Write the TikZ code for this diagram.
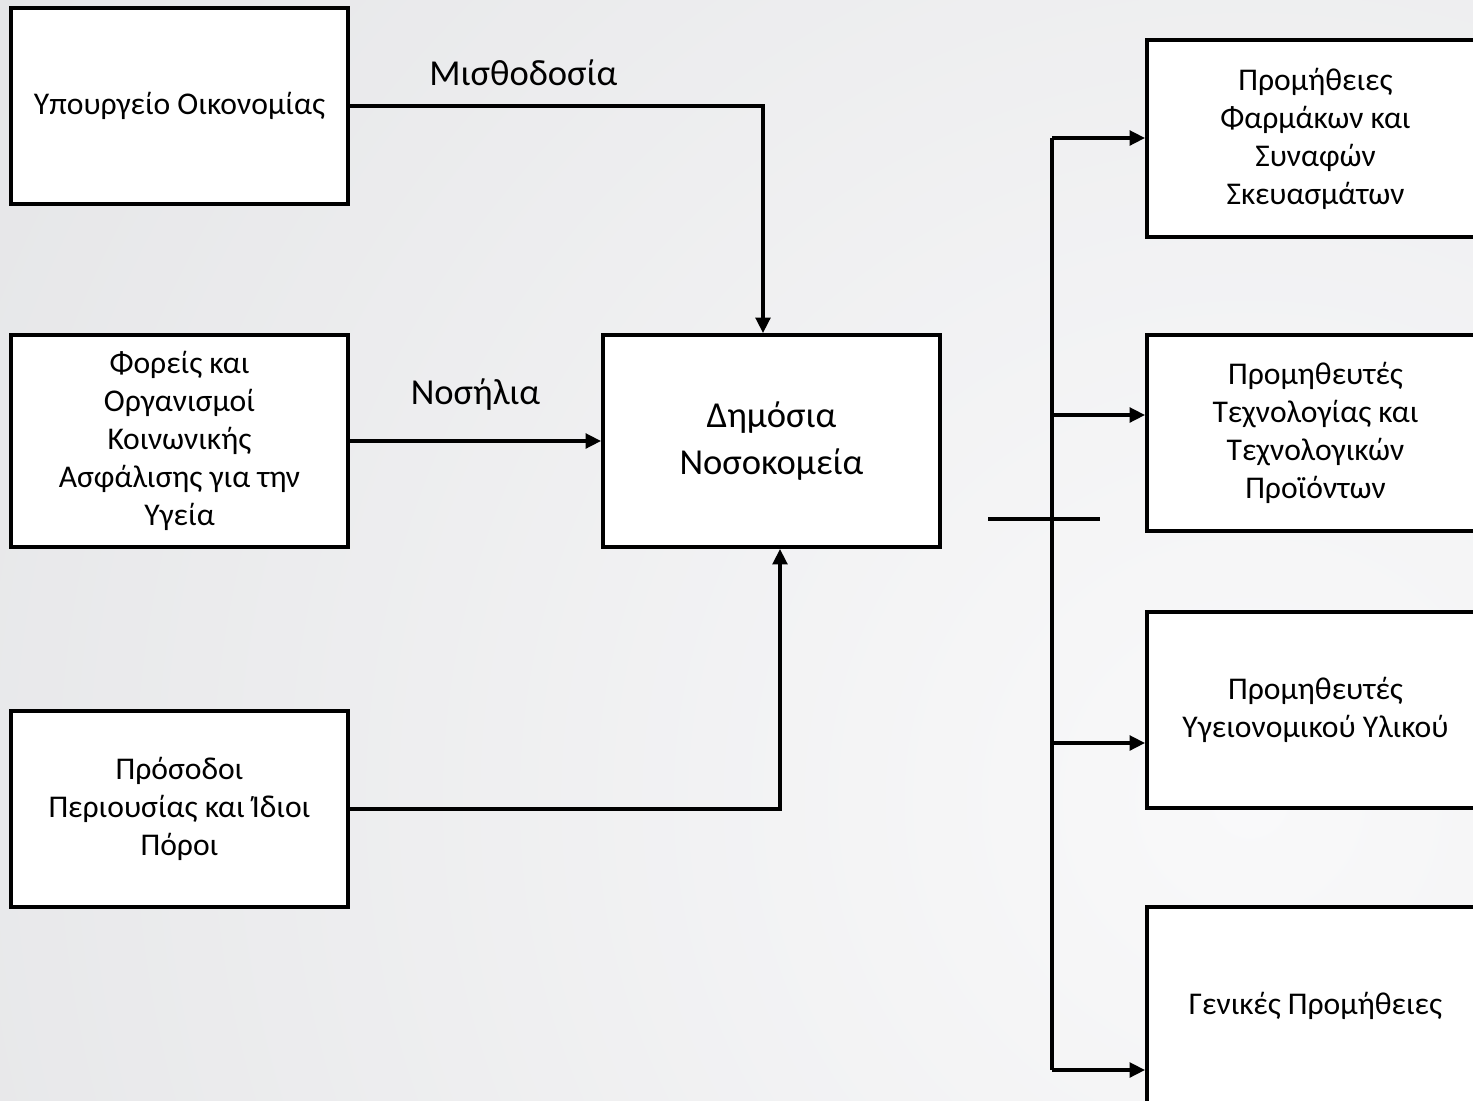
\documentclass[tikz,border=0pt]{standalone}
\usepackage{fontspec}
\setmainfont{Carlito}
\usepackage{tikz}
\usetikzlibrary{arrows.meta, positioning, calc}

\definecolor{bginner}{HTML}{F9F9FA}
\definecolor{bgouter}{HTML}{D1D2D5}

\begin{document}
\begin{tikzpicture}
\tikzstyle{box}=[draw, line width=2.8pt, fill=white, minimum width=8.425cm, align=center, inner sep=0pt, font=\fontsize{22.5}{27}\selectfont]
\tikzstyle{flow}=[line width=2.3pt, -{Triangle[length=11pt,width=10.5pt]}]
\tikzstyle{flowlabel}=[font=\fontsize{26}{31}\selectfont]

\useasboundingbox (0,0) rectangle (36.825,-27.5);
\begin{scope}
\clip (0,0) rectangle (36.825,-27.5);
\shade[inner color=bginner, outer color=bgouter] (31.25,-20) circle (75cm);
\end{scope}

\node (ministry) [box, minimum height=4.9cm] at (4.4875,-2.65) {Υπουργείο Οικονομίας};
\node (insurers) [box, minimum height=5.3cm] at (4.4875,-11.025) {Φορείς και\\Οργανισμοί\\Κοινωνικής\\Ασφάλισης για την\\Υγεία};
\node (assets) [box, minimum height=4.9cm] at (4.4875,-20.225) {Πρόσοδοι\\Περιουσίας και Ίδιοι\\Πόροι};

\node (hospitals) [box, minimum height=5.3cm, font=\fontsize{26}{33}\selectfont] at (19.2875,-11.025) {Δημόσια\\Νοσοκομεία};

\node (drugs) [box, minimum height=4.925cm] at (32.8875,-3.4625) {Προμήθειες\\Φαρμάκων και\\Συναφών\\Σκευασμάτων};
\node (tech) [box, minimum height=4.9cm] at (32.8875,-10.825) {Προμηθευτές\\Τεχνολογίας και\\Τεχνολογικών\\Προϊόντων};
\node (medical) [box, minimum height=4.9cm] at (32.8875,-17.75) {Προμηθευτές\\Υγειονομικού Υλικού};
\node (general) [box, minimum height=4.925cm] at (32.8875,-25.1375) {Γενικές Προμήθειες};

\draw [flow] (ministry.east) -| ([xshift=-0.2125cm]hospitals.north) node[flowlabel, pos=0.21, above=0.34cm] {Μισθοδοσία};
\draw [flow] (insurers.east) -- (hospitals.west) node[flowlabel, midway, above=0.6cm] {Νοσήλια};
\draw [flow] (assets.east) -| ([xshift=0.2125cm]hospitals.south);

\coordinate (tap1) at (26.3,-3.45);
\coordinate (tap2) at (26.3,-10.375);
\coordinate (tap3) at (26.3,-18.575);
\coordinate (tap4) at (26.3,-26.75);
\draw [line width=2.3pt] (tap1) -- (tap4);
\draw [flow] (tap1) -- (tap1 -| drugs.west);
\draw [flow] (tap2) -- (tap2 -| tech.west);
\draw [flow] (tap3) -- (tap3 -| medical.west);
\draw [flow] (tap4) -- (tap4 -| general.west);

\coordinate (cut left) at (24.7,-12.975);
\coordinate (cut right) at (27.5,-12.975);
\draw [line width=2.3pt] (cut left) -- (cut right);

\end{tikzpicture}
\end{document}
